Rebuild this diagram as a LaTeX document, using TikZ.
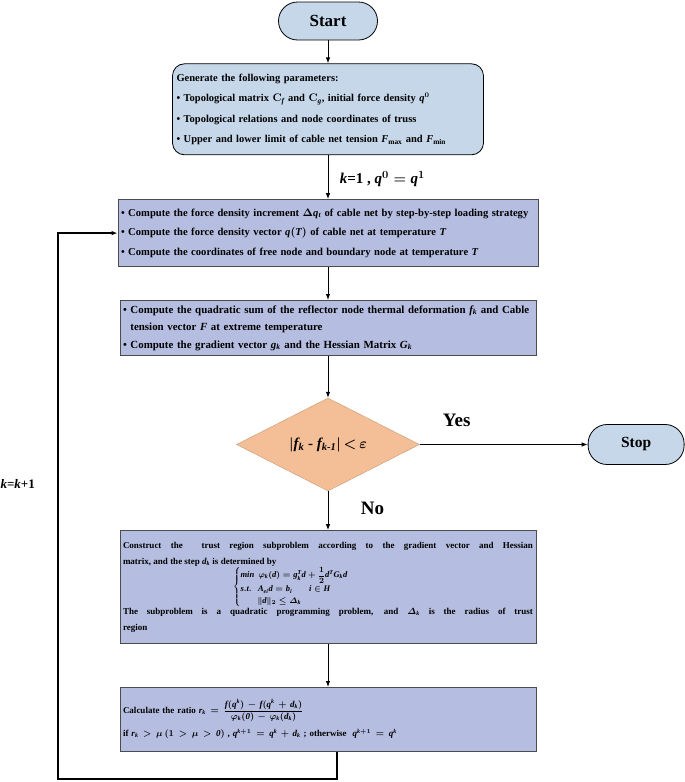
\documentclass[tikz,border=0pt]{standalone}
\usepackage{amsmath}
\usepackage{fontspec}
\setmainfont{Liberation Serif}
% Latin letters in math taken from the text font, bold italic
\DeclareSymbolFont{varletters}{TU}{\rmdefault}{\bfdefault}{\itdefault}
\makeatletter
\@tempcnta=`a
\loop \Umathcode\@tempcnta=7 \symvarletters \@tempcnta
\ifnum\@tempcnta<`z \advance\@tempcnta 1 \repeat
\@tempcnta=`A
\loop \Umathcode\@tempcnta=7 \symvarletters \@tempcnta
\ifnum\@tempcnta<`Z \advance\@tempcnta 1 \repeat
\makeatother
\newcommand{\widemath}{\thickmuskip=8mu\medmuskip=6mu\relax}
\usetikzlibrary{positioning, arrows.meta, shapes.geometric}
\definecolor{capblue}{RGB}{197,215,233}
\definecolor{steplav}{RGB}{181,190,224}
\definecolor{checkpeach}{RGB}{244,191,150}
\tikzset{
	startstop/.style = {rectangle, rounded corners=19pt, draw=black, thick, fill=capblue, minimum width=99pt, minimum height=38pt, font=\fontsize{17}{19}\selectfont\bfseries},
	params/.style = {rectangle, rounded corners=12pt, draw=black, thick, fill=capblue, text width=303pt, minimum height=91pt, inner xsep=4pt, align=left, font=\fontsize{10.5}{20.5}\selectfont\bfseries\boldmath},
	process/.style = {rectangle, draw=black!70, thick, fill=steplav, text width=410pt, inner xsep=3pt, font=\fontsize{10.5}{18}\selectfont\bfseries\boldmath},
	decision/.style = {diamond, aspect=2, draw=checkpeach!80!black, fill=checkpeach, minimum width=183pt, minimum height=93pt, inner sep=0pt, font=\fontsize{15}{17}\selectfont\bfseries\boldmath},
	arrow/.style={-{Latex[length=6pt, width=4.5pt]}, line width=1pt},
	backloop/.style={-{Latex[length=6pt, width=4.5pt]}, line width=1.7pt},
	edgelabel/.style={font=\fontsize{19}{21}\selectfont\bfseries\boldmath}
}

\begin{document}
\begin{tikzpicture}[node distance=23pt and 168pt]
		\useasboundingbox (0pt,0pt) rectangle (685pt,-782pt);
		
		% Start
		\node (start) [startstop] at (328pt,-21pt) {Start};
		
		% Parameters
		\node (params) [params, below=23pt of start] {Generate the following parameters:\\
			\textbullet\ Topological matrix $\mathbf{C}_f$ and $\mathbf{C}_g$, initial force density $q^{0}$\\
			\textbullet\ Topological relations and node coordinates of truss\\
			\textbullet\ Upper and lower limit of cable net tension $F_{\max}$ and $F_{\min}$};
		
		% Loading steps
		\node (loading) [process, text width=414pt, minimum height=67pt, align=left, font=\fontsize{10.6}{19.5}\selectfont\bfseries\boldmath, below=44pt of params] {\textbullet\ Compute the force density increment $\Delta q_t$ of cable net by step-by-step loading strategy\\
			\textbullet\ Compute the force density vector $q(T)$ of cable net at temperature $T$\\
			\textbullet\ Compute the coordinates of free node and boundary node at temperature $T$};
		
		\node (quadsum) [process, minimum height=55pt, align=left, font=\fontsize{10.9}{17.5}\selectfont\bfseries\boldmath, below=33pt of loading] {\textbullet\ Compute the quadratic sum of the reflector node thermal deformation $f_k$ and Cable\\
			\hphantom{\textbullet\ }tension vector $F$ at extreme temperature\\
			\textbullet\ Compute the gradient vector $g_k$ and the Hessian Matrix $G_k$};
		
		% Check
		\node (converge) [decision, below=42pt of quadsum] {$\left|f_k\ \text{-}\ f_{k\text{-}\mathit{1}}\right|{<}\,\varepsilon$};
		\node (stop) [startstop, minimum width=96pt, minimum height=40pt, font=\fontsize{15.5}{17}\selectfont\bfseries, right=of converge] {Stop};
		
		% Trust region
		\node (trust) [process, minimum height=113pt, align=justify, font=\fontsize{9}{16}\selectfont\bfseries\boldmath, below=39pt of converge] {Construct the\ \ trust region subproblem according to the gradient vector and Hessian\linebreak matrix, and the step $d_k$ is determined by\par
			\hspace*{110pt}{\fontsize{8.5}{9}\selectfont\renewcommand{\arraystretch}{1.3}$\left\{\begin{array}{@{}l@{}}
				\mathit{min}\ \ \varphi_k(d)=g_k^{T}d+\dfrac{1}{2}d^{T}G_kd\\
				s.t.\ \ \ A_{ei}d=b_i\qquad i\in H\\
				\qquad\|d\|_2\le \varDelta_k
			\end{array}\right.$}\par
			The subproblem is a quadratic programming problem, and $\varDelta_k$ is the radius of trust\linebreak region};
		
		\node (ratio) [process, minimum height=64pt, align=left, font=\fontsize{9}{13}\selectfont\bfseries\boldmath, below=43pt of trust] {\widemath Calculate the ratio $r_k=\dfrac{f(q^k)-f(q^k+d_k)}{\varphi_k(\mathit{0})-\varphi_k(d_k)}$\\[6pt]
			if $r_k>\mu\,(1>\mu>\mathit{0})$ , $q^{k+1}=q^k+d_k$ ; otherwise\ \ $q^{k+1}=q^k$};
		
		\coordinate (back) at (58pt,-779pt);
		
		% Arrows
		\draw [arrow] (start) -- (params);
		\draw [arrow] (params) -- node[pos=0.55, right=8pt, font=\fontsize{15}{17}\selectfont\bfseries\boldmath] {$k$=1 , $q^{0}=q^{1}$} (loading);
		\draw [arrow] (loading) -- (quadsum);
		\draw [arrow] (quadsum) -- (converge);
		\draw [arrow] (converge) -- node[edgelabel, pos=0.22, above=14pt] {Yes} (stop);
		\draw [arrow] (converge) -- node[edgelabel, pos=0.44, right=29pt] {No} (trust);
		\draw [arrow] (trust) -- (ratio);
		\draw [backloop] ([xshift=9pt]ratio.south) |- (back) |- node[pos=0.27, left=19pt, font=\fontsize{13}{15}\selectfont\bfseries\boldmath] {$k$=$k$+1} (loading.west);
		
	\end{tikzpicture}
\end{document}
